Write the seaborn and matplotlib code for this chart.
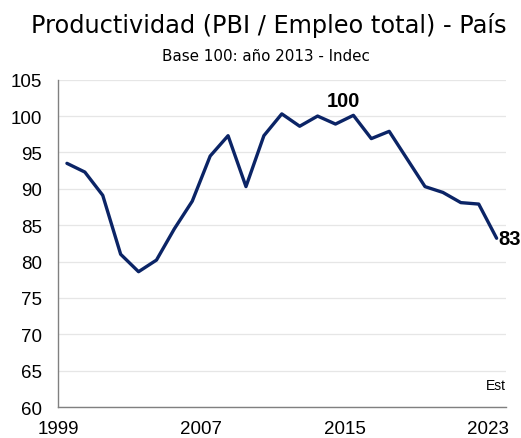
import matplotlib
matplotlib.use("Agg")
import matplotlib.pyplot as plt
import seaborn as sns
import pandas as pd
import numpy as np

years = list(range(1999, 2024))
productividad = [93.5, 92.3, 89.1, 81.0, 78.6, 80.2, 84.5, 88.3, 94.5, 97.3,
                 90.3, 97.3, 100.3, 98.6, 100.0, 98.9, 100.1, 96.9, 97.9, 94.1,
                 90.3, 89.5, 88.1, 87.9, 83.2]
xtick_years = [1999, 2003, 2007, 2011, 2015, 2019, 2023]
xtick_labels = ["1999", "", "2007", "", "2015", "", "2023"]
yticks = [60, 65, 70, 75, 80, 85, 90, 95, 100, 105]

title = "Productividad (PBI / Empleo total) - País"
subtitle = "Base 100: año 2013 - Indec"

sns.set_style("white")
plt.rcParams['font.family'] = ['Liberation Sans', 'DejaVu Sans']

df = pd.DataFrame({"year": years, "val": productividad})
# points are centred in each yearly category (Excel category axis)
df["xpos"] = df["year"] + 0.5

fig = plt.figure(figsize=(5.21, 4.39), dpi=100)
ax = fig.add_axes([0.1113, 0.0706, 0.8591, 0.7456])

sns.lineplot(data=df, x="xpos", y="val", ax=ax, color="#0b2466", linewidth=2.4)

ax.set_xlim(1999, 2024)
ax.set_ylim(60, 105)
ax.set_yticks(yticks)
ax.set_yticklabels([str(v) for v in yticks])
ax.set_xticks(xtick_years)
ax.set_xticklabels(xtick_labels)
ax.set_xlabel("")
ax.set_ylabel("")

ax.grid(axis="y", color="#e6e6e6", linewidth=0.9)
ax.set_axisbelow(True)
for s in ["top", "right"]:
    ax.spines[s].set_visible(False)
for s in ["left", "bottom"]:
    ax.spines[s].set_color("#808080")
    ax.spines[s].set_linewidth(1.0)
ax.tick_params(axis="both", which="both", direction="out", width=1.0,
               color="#808080", labelsize=13.5, labelcolor="#000000")
ax.tick_params(axis="x", length=4, pad=5)
ax.tick_params(axis="y", length=3.6, pad=8)

# labels
x2015 = df.loc[df["year"] == 2015, "xpos"].iloc[0]
y2015 = df.loc[df["year"] == 2015, "val"].iloc[0]
ax.annotate("100", xy=(x2015, y2015), xytext=(-10, 15), textcoords="offset pixels",
            ha="center", va="center", fontsize=14.5, fontweight="bold", color="black")
xl = df["xpos"].iloc[-1]
yl = df["val"].iloc[-1]
ax.annotate(f"{round(yl)}", xy=(xl, yl), xytext=(2, 0), textcoords="offset pixels",
            ha="left", va="center", fontsize=14.5, fontweight="bold", color="black",
            annotation_clip=False)
ax.text(1.0009, 0.055, "Est", transform=ax.transAxes, ha="right", va="baseline",
        fontsize=10, color="black", family=["Liberation Sans Narrow", "Liberation Sans"])

fig.text(0.515, 0.924, title, ha="center", va="baseline", fontsize=17.3,
         color="black", family=["DejaVu Sans"])
fig.text(0.5106, 0.862, subtitle, ha="center", va="baseline", fontsize=10.9,
         color="black", family=["DejaVu Sans"])

fig.savefig("out.png", dpi=100)
